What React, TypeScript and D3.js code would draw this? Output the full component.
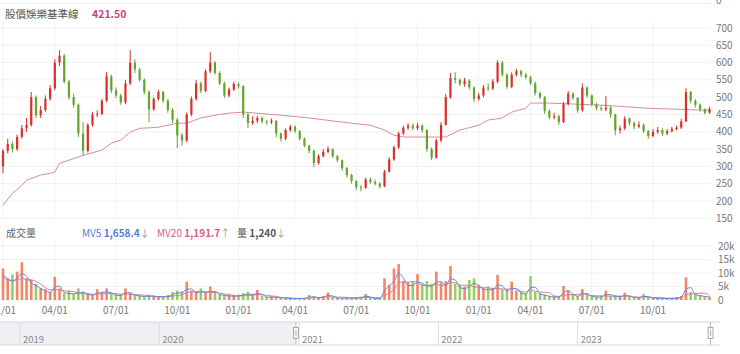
import React from 'react';
import * as d3 from 'd3';

const WIDTH = 740;
const HEIGHT = 354;

// weekly candles, Jan 2021 – Dec 2023
const firstOpen = 300;
const closes = [
  345, 365, 350, 385, 410, 420, 500, 448, 463, 495,
  526, 600, 620, 545, 500, 478, 395, 345, 420, 450,
  452, 490, 560, 520, 505, 485, 540, 600, 580, 550,
  515, 465, 495, 515, 490, 463, 435, 390, 375, 450,
  495, 540, 518, 575, 600, 570, 540, 505, 522, 538,
  532, 450, 425, 432, 440, 430, 428, 432, 395, 380,
  405, 415, 402, 380, 360, 345, 310, 330, 342, 350,
  330, 318, 295, 275, 258, 240, 238, 262, 255, 250,
  242, 285, 320, 355, 395, 412, 418, 410, 418, 405,
  350, 325, 375, 420, 500, 555, 550, 538, 548, 528,
  495, 505, 528, 525, 545, 600, 565, 530, 565, 575,
  565, 558, 540, 512, 500, 460, 442, 445, 428, 480,
  510, 498, 462, 528, 505, 480, 468, 465, 470, 450,
  405, 410, 438, 425, 415, 420, 402, 388, 400, 405,
  395, 402, 408, 412, 430, 515, 490, 478, 465, 455,
  466,
];
const highs = [
  350, 380, 372, 392, 420, 440, 515, 505, 475, 505,
  535, 610, 636, 625, 550, 510, 482, 428, 425, 458,
  462, 495, 573, 565, 528, 510, 550, 636, 610, 585,
  555, 520, 500, 522, 518, 495, 468, 440, 396, 456,
  502, 550, 545, 580, 630, 605, 575, 545, 528, 545,
  542, 535, 455, 445, 446, 444, 435, 438, 435, 398,
  410, 420, 418, 405, 384, 362, 348, 335, 350, 358,
  352, 333, 320, 298, 278, 260, 246, 268, 268, 262,
  255, 290, 326, 360, 400, 418, 425, 424, 425, 422,
  408, 355, 380, 428, 510, 570, 572, 555, 556, 552,
  532, 512, 535, 540, 552, 607, 605, 570, 572, 582,
  580, 570, 562, 545, 516, 504, 465, 455, 450, 486,
  518, 515, 500, 540, 532, 508, 484, 475, 503, 474,
  452, 418, 445, 442, 430, 430, 424, 405, 408, 414,
  410, 408, 414, 418, 438, 526, 518, 494, 482, 468,
  472,
];
const lows = [
  280, 338, 340, 345, 380, 400, 415, 440, 440, 458,
  490, 520, 590, 540, 492, 470, 385, 332, 340, 415,
  442, 448, 485, 512, 498, 478, 480, 535, 570, 545,
  508, 428, 460, 490, 484, 455, 425, 353, 360, 370,
  445, 490, 512, 515, 570, 565, 535, 498, 500, 518,
  525, 440, 410, 420, 425, 424, 420, 422, 384, 372,
  376, 400, 396, 375, 355, 338, 298, 305, 326, 338,
  324, 312, 288, 268, 250, 232, 228, 235, 250, 245,
  236, 240, 282, 316, 350, 390, 405, 404, 405, 398,
  342, 318, 322, 370, 418, 495, 540, 532, 530, 522,
  486, 490, 500, 518, 520, 540, 560, 524, 526, 560,
  558, 552, 535, 505, 494, 452, 436, 436, 420, 425,
  476, 492, 455, 458, 498, 474, 462, 460, 460, 440,
  390, 395, 405, 418, 408, 410, 396, 380, 384, 394,
  388, 390, 398, 404, 408, 428, 482, 470, 458, 450,
  452,
];
// typical daily volume per week, thousands of lots
const volumes = [
  11.7, 8, 9.5, 10.5, 14, 8, 7.5, 6, 4.5, 4,
  3, 8.6, 4.3, 2.5, 3.5, 2.2, 4.3, 3, 2.4, 2,
  4, 3, 4.3, 2.5, 2, 2.2, 4.3, 2.5, 2, 1.8,
  1.5, 2, 1.6, 1.4, 1.5, 1.8, 3, 3.5, 3.2, 6.8,
  3.5, 3.2, 4.3, 2.8, 5, 3, 2.2, 2, 1.8, 1.8,
  2, 2.5, 3, 2.2, 3.7, 1.5, 1.2, 1.4, 1.2, 1,
  0.8, 0.7, 0.6, 0.7, 0.8, 1.9, 1.2, 1, 1.5, 2.7,
  1, 0.9, 0.8, 1, 0.9, 1.1, 1.2, 2.2, 0.7, 0.6,
  0.8, 8, 5.5, 11.7, 13.3, 7, 6.5, 7, 9.6, 6,
  7, 6, 10.5, 6.5, 7, 12.6, 6, 5.5, 5, 7.4,
  8, 5.5, 4.5, 5, 4.5, 9.3, 4, 4, 6.8, 3.5,
  3, 2.5, 8.9, 3, 2.5, 2, 1.5, 1.3, 1.5, 5.2,
  3.5, 2, 1.5, 4, 2, 1.5, 1.3, 1.5, 3.5, 1.5,
  1.8, 1.2, 2.7, 1.2, 1, 1, 2.2, 1, 0.9, 0.8,
  0.8, 0.7, 0.8, 1, 1.5, 8.4, 3, 2.2, 1.8, 1.5,
  1.2,
];
// baseline line read at selected weeks
const baselineWeeks = [0, 2, 4, 5, 8, 11, 12, 14, 17, 21, 23, 25, 27, 29, 33, 37, 39, 42, 45, 48, 51, 59, 65, 72, 78, 81, 83, 85, 94, 97, 101, 103, 106, 108, 111, 112, 116, 127, 137, 148, 150];
const baselineValues = [188, 222, 245, 260, 275, 283, 309, 318, 332, 347, 367, 376, 399, 410, 413, 425, 425, 440, 448, 454, 457, 448, 440, 428, 419, 405, 390, 385, 385, 405, 419, 434, 440, 457, 468, 483, 483, 477, 468, 463, 463];

const priceTicks = [700, 650, 600, 550, 500, 450, 400, 350, 300, 250, 200, 150];
const volumeTicks = [0, 5, 10, 15, 20];
const volumeTickLabels = ['0', '5k', '10k', '15k', '20k'];
const dateTickWeeks = [0, 11, 24, 37, 50, 62, 75, 88, 101, 112, 125, 138];
const dateTickLabels = ['01/01', '04/01', '07/01', '10/01', '01/01', '04/01', '07/01', '10/01', '01/01', '04/01', '07/01', '10/01'];
const navYears = ['2019', '2020', '2021', '2022', '2023'];
const navYearStarts = ['2019-01-01', '2020-01-01', '2021-01-01', '2022-01-01', '2023-01-01'];
const navSelStart = '2020-12-24';
const navSelEnd = '2023-12-15';

const FONT = "'Noto Sans CJK TC', 'Noto Sans', sans-serif";
const UP = '#d8302a';
const DOWN = '#63a52c';
const VUP = '#f07a58';
const VDOWN = '#8dc657';

export default function App() {
  const x = d3.scaleLinear().domain([0, 138]).range([3, 653]);
  const yP = d3.scaleLinear().domain([150, 700]).range([218.3, 28]);
  const yV = d3.scaleLinear().domain([0, 20]).range([300, 246]);
  const xNav = d3.scaleTime().domain([new Date('2019-01-01'), new Date('2024-01-01')]).range([20, 717]);

  const opens = closes.map((c, i) => (i === 0 ? firstOpen : closes[i - 1]));
  const bodyW = 2.2;
  const barW = 2.6;

  const baseLine = d3.line<number>()
    .x((_, i) => x(baselineWeeks[i]))
    .y((v) => yP(v))(baselineValues) || '';

  const rolling = (n: number) => volumes.map((_, i) => d3.mean(volumes.slice(Math.max(0, i - n + 1), i + 1)) as number);
  const mv5 = rolling(2).map((v) => v * 0.8);
  const mv20 = rolling(5).map((v) => v * 0.75);
  const volLine = d3.line<number>().x((_, i) => x(i)).y((v) => yV(v)).curve(d3.curveMonotoneX);

  const selX0 = xNav(new Date(navSelStart));
  const selX1 = xNav(new Date(navSelEnd));

  return (
    <svg width={WIDTH} height={HEIGHT} style={{ position: 'absolute', left: 0, top: 0, background: '#fff' }} fontFamily={FONT}>
      <line x1={0} x2={712} y1={3.5} y2={3.5} stroke="#eeeeee" />
      <text x={716} y={4} fontSize={10} fill="#777">0</text>

      {/* titles */}
      <text x={5} y={18} fontSize={10.5} fill="#555">股價娛樂基準線</text>
      <text x={92} y={18} fontSize={10.5} fontWeight="bold" fill="#c4487a">421.50</text>

      {/* price grid */}
      {priceTicks.map((t) => (
        <g key={'pt' + t}>
          <line x1={0} x2={710} y1={yP(t)} y2={yP(t)} stroke="#f1f1f1" />
          <text x={716} y={yP(t) + 3.5} fontSize={10} fill="#777">{t}</text>
        </g>
      ))}
      {dateTickWeeks.map((w, i) => (
        <g key={'dg' + i}>
          <line x1={x(w)} x2={x(w)} y1={22} y2={218} stroke="#f1f1f1" />
          <line x1={x(w)} x2={x(w)} y1={240} y2={300} stroke="#f1f1f1" />
        </g>
      ))}

      {/* baseline */}
      <path d={baseLine} fill="none" stroke="#d98c9c" strokeWidth={1} />

      {/* candles */}
      {closes.map((c, i) => {
        const o = opens[i];
        const up = c >= o;
        const col = up ? UP : DOWN;
        const cx = x(i);
        const top = yP(Math.max(o, c));
        const bot = yP(Math.min(o, c));
        return (
          <g key={'c' + i}>
            <line x1={cx} x2={cx} y1={yP(highs[i])} y2={yP(lows[i])} stroke={col} strokeWidth={1} />
            <rect x={cx - bodyW / 2} y={top} width={bodyW} height={Math.max(1, bot - top)} fill={col} />
          </g>
        );
      })}

      {/* volume legend */}
      <text x={6} y={237} fontSize={10} fill="#666">成交量</text>
      <text x={82} y={237} fontSize={10} fill="#4f7fd6">
        MV5 <tspan fontWeight="bold">1,658.4</tspan><tspan fill="#999">↓</tspan>
      </text>
      <text x={157} y={237} fontSize={10} fill="#d45e86">
        MV20 <tspan fontWeight="bold">1,191.7</tspan><tspan fill="#999">↑</tspan>
      </text>
      <text x={237} y={237} fontSize={10} fill="#555">
        量 <tspan fontWeight="bold">1,240</tspan><tspan fill="#999">↓</tspan>
      </text>

      {/* volume grid & axis */}
      {volumeTicks.map((t, i) => (
        <g key={'vt' + t}>
          <line x1={0} x2={710} y1={yV(t)} y2={yV(t)} stroke="#f1f1f1" />
          <text x={718} y={yV(t) + 3.5} fontSize={10} fill="#777">{volumeTickLabels[i]}</text>
        </g>
      ))}

      {/* volume bars */}
      {volumes.map((v, i) => {
        const up = closes[i] >= opens[i];
        return (
          <rect key={'v' + i} x={x(i) - barW / 2} y={yV(v)} width={barW} height={yV(0) - yV(v)} fill={up ? VUP : VDOWN} opacity={0.9} />
        );
      })}
      <path d={volLine(mv20) || ''} fill="none" stroke="#e07a9a" strokeWidth={1} />
      <path d={volLine(mv5) || ''} fill="none" stroke="#5f8be0" strokeWidth={1} />

      {/* date axis */}
      {dateTickWeeks.map((w, i) => (
        <text key={'dl' + i} x={x(w)} y={314} fontSize={10} fill="#777" textAnchor="middle">{dateTickLabels[i]}</text>
      ))}

      {/* navigator */}
      <rect x={0} y={322} width={selX0} height={23} fill="#eef0f3" />
      <line x1={0} x2={720} y1={322} y2={322} stroke="#d8d8d8" />
      <line x1={0} x2={720} y1={345} y2={345} stroke="#d8d8d8" />
      {navYears.map((yr, i) => {
        const nx = xNav(new Date(navYearStarts[i]));
        return (
          <g key={'ny' + yr}>
            <line x1={nx} x2={nx} y1={322} y2={345} stroke="#dddddd" />
            <text x={nx + 3} y={343} fontSize={9.5} fill="#888">{yr}</text>
          </g>
        );
      })}
      <line x1={selX0} x2={selX0} y1={322} y2={345} stroke="#bbbbbb" />
      <line x1={selX1} x2={selX1} y1={322} y2={345} stroke="#bbbbbb" />
      {[selX0, selX1].map((hx, i) => (
        <g key={'h' + i}>
          <rect x={hx - 2.5} y={327.5} width={5} height={11} fill="#f6f6f6" stroke="#999" strokeWidth={0.8} />
          <line x1={hx} x2={hx} y1={330} y2={336} stroke="#888" strokeWidth={0.6} />
        </g>
      ))}
    </svg>
  );
}
